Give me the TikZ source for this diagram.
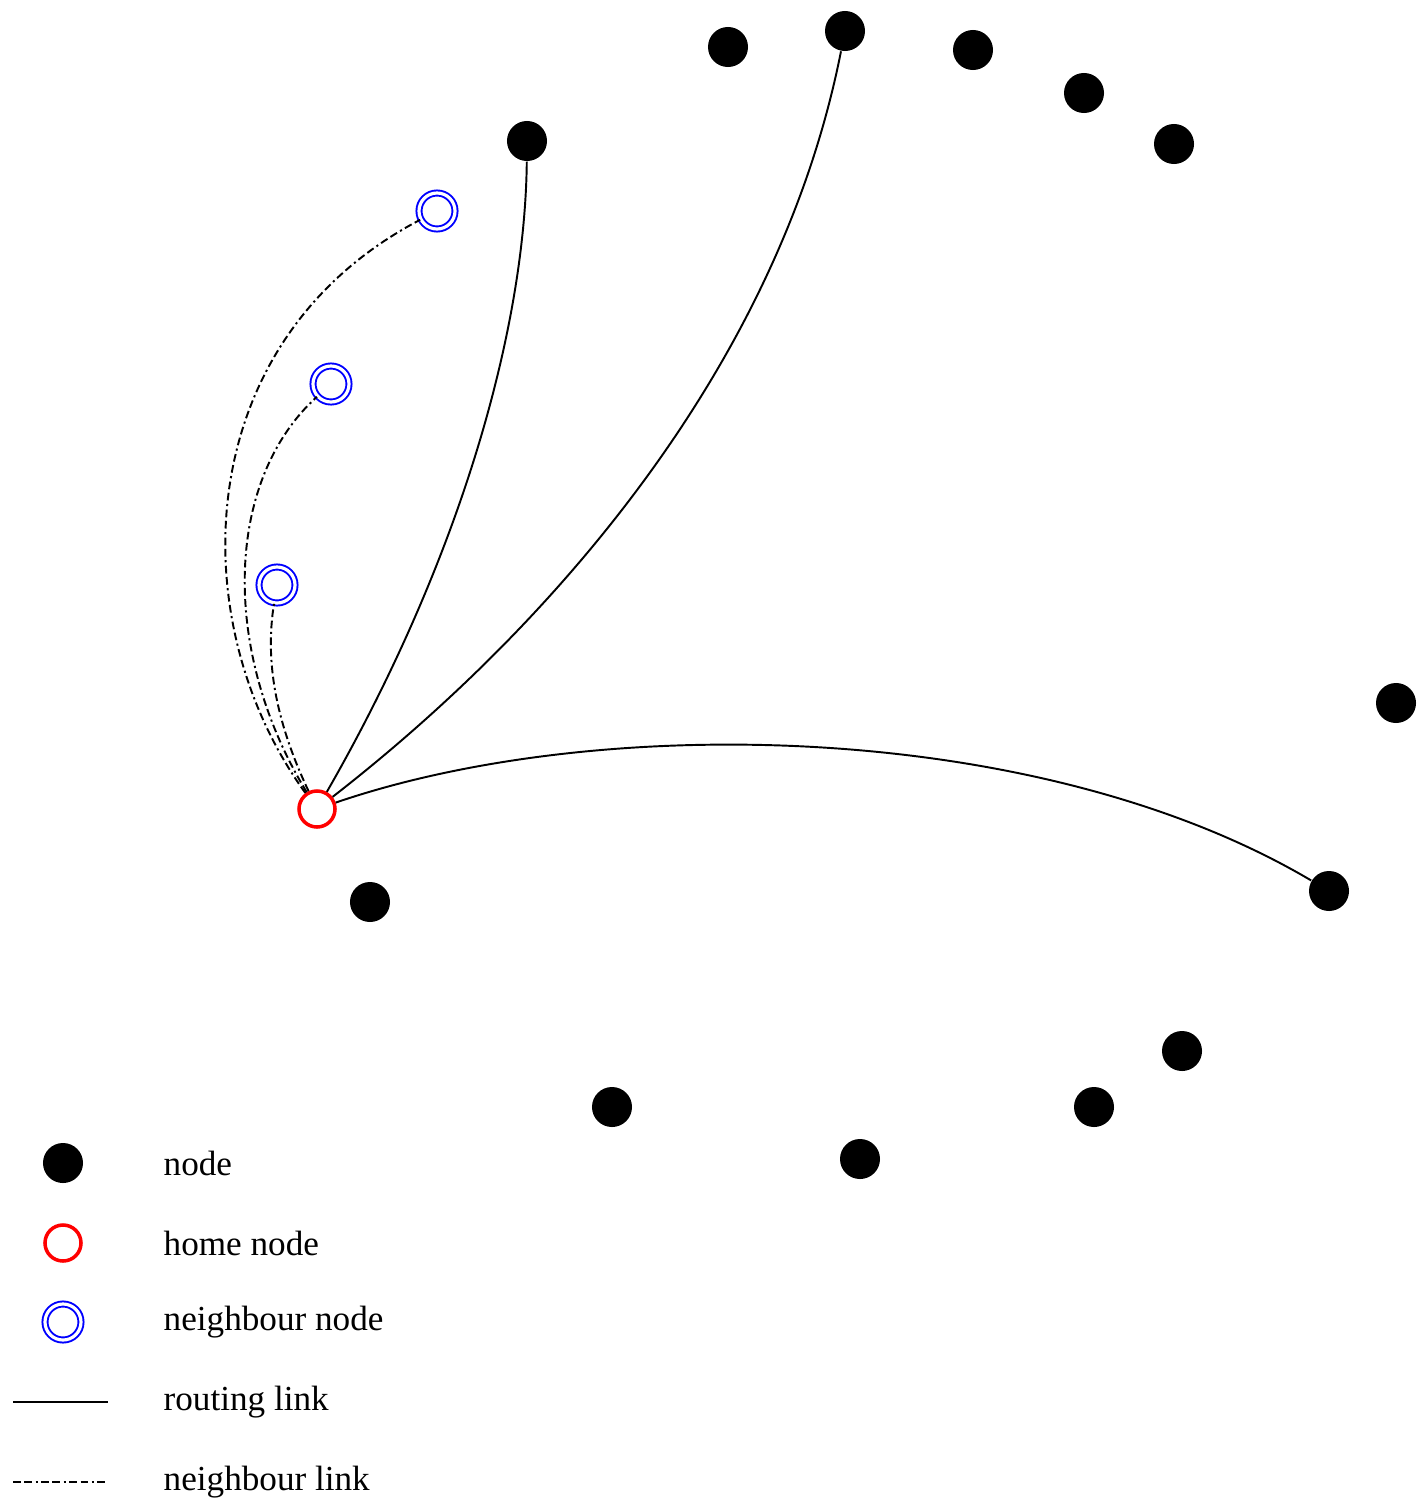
\documentclass[tikz,border=0pt]{standalone}
\usepackage{fontspec}
\setmainfont{Liberation Serif}
\begin{document}
\begin{tikzpicture}[x=0.01cm,y=-0.01cm,
  dot/.style={circle,fill=black,inner sep=0pt,minimum size=0.4cm},
  home/.style={circle,draw=red,line width=1pt,inner sep=0pt,minimum size=0.36cm},
  nbr/.style={circle,draw=blue,double=white,double distance=0.9pt,line width=0.55pt,inner sep=0pt,minimum size=0.36cm},
  rlink/.style={draw=black,line width=0.55pt},
  nlink/.style={draw=black,line width=0.55pt,dash pattern=on 2.2pt off 1pt on 2.2pt off 1pt on 0.6pt off 1pt},
  lbl/.style={anchor=west,inner sep=0pt,font=\fontsize{10}{12}\selectfont}]
\useasboundingbox (0,0) rectangle (1419,1506);
% nodes
\node[dot] (d1) at (728,47) {};
\node[dot] (d2) at (845,31) {};
\node[dot] (d3) at (973,50) {};
\node[dot] (d4) at (1084,93) {};
\node[dot] (d5) at (1174,144) {};
\node[dot] (d6) at (527,141) {};
\node[dot] (d7) at (1396,703) {};
\node[dot] (d8) at (1329,891) {};
\node[dot] (d9) at (370,902) {};
\node[dot] (d10) at (1182,1051) {};
\node[dot] (d11) at (1094,1107) {};
\node[dot] (d12) at (612,1107) {};
\node[dot] (d13) at (860,1159) {};
\node[nbr] (n1) at (437,211) {};
\node[nbr] (n2) at (331,384) {};
\node[nbr] (n3) at (277,585) {};
\node[home] (h) at (317,809) {};
% routing links
\draw[rlink] (h) .. controls (460,560) and (525,330) .. (d6);
\draw[rlink] (h) .. controls (560,620) and (780,360) .. (d2);
\draw[rlink] (h) .. controls (600,712) and (1040,720) .. (d8);
% neighbour links
\draw[nlink] (h) .. controls (180,620) and (190,340) .. (n1);
\draw[nlink] (h) .. controls (220,650) and (225,480) .. (n2);
\draw[nlink] (h) .. controls (275,720) and (265,660) .. (n3);
% legend
\node[dot] (ld) at (63,1163) {};
\node[home] (lh) at (63,1243) {};
\node[nbr] (ln) at (63,1322) {};
\coordinate (lr1) at (13,1402);
\coordinate (lr2) at (108,1402);
\coordinate (ll1) at (13,1482);
\coordinate (ll2) at (108,1482);
\draw[rlink] (lr1) -- (lr2);
\draw[nlink] (ll1) -- (ll2);
\node[lbl] (t1) at (163,1163) {node};
\node[lbl] (t2) at (163,1243) {home node};
\node[lbl] (t3) at (163,1322) {neighbour node};
\node[lbl] (t4) at (163,1402) {routing link};
\node[lbl] (t5) at (163,1482) {neighbour link};
\end{tikzpicture}
\end{document}
